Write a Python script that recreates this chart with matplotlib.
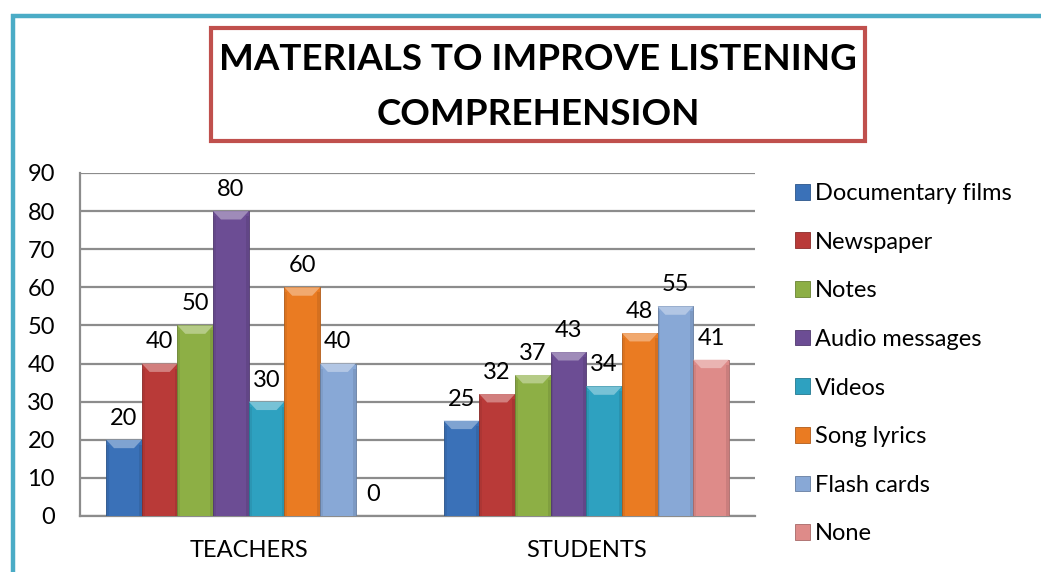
import matplotlib
matplotlib.use("Agg")
import matplotlib.pyplot as plt
from matplotlib.patches import Rectangle, Polygon
from matplotlib.lines import Line2D
import matplotlib.colors as mcolors
import numpy as np

plt.rcParams['font.family'] = ['Lato', 'DejaVu Sans']

categories = ["TEACHERS", "STUDENTS"]
series = ["Documentary films", "Newspaper", "Notes", "Audio messages",
          "Videos", "Song lyrics", "Flash cards", "None"]
teachers = [20, 40, 50, 80, 30, 60, 40, 0]
students = [25, 32, 37, 43, 34, 48, 55, 41]
yticks = [0, 10, 20, 30, 40, 50, 60, 70, 80, 90]
title = "MATERIALS TO IMPROVE LISTENING\nCOMPREHENSION"

colors = ["#3A71B8", "#B93A38", "#8DAF45", "#6C4D94",
          "#2EA1C0", "#EA7B22", "#88A8D6", "#DE8B89"]

W, H = 1041, 572
fig = plt.figure(figsize=(W / 100, H / 100), dpi=100)

# outer frame (only top and left edges are visible)
fig.lines.append(Line2D([11 / W, 1.05], [1 - 15.5 / H, 1 - 15.5 / H], transform=fig.transFigure,
                        color="#4BACC6", lw=3.2, solid_capstyle="butt"))
fig.lines.append(Line2D([12.5 / W, 12.5 / W], [1 - 14 / H, -0.05], transform=fig.transFigure,
                        color="#4BACC6", lw=3.2, solid_capstyle="butt"))

# title box
fig.patches.append(Rectangle((211 / W, 1 - 141 / H), (865 - 211) / W, (141 - 28) / H,
                             transform=fig.transFigure, fill=True, facecolor="white",
                             edgecolor="#C0504D", lw=3.0, zorder=1))
fig.text(538 / W, 1 - 87 / H, title, ha="center", va="center",
         fontsize=26.5, fontweight="bold", linespacing=1.8, zorder=2)

ax = fig.add_axes([80 / W, 56 / H, (755 - 80) / W, (516 - 173) / H])
x = np.arange(len(categories))
n = len(series)
bw = 0.1056
data = np.array([teachers, students])
fs = 17

for i, name in enumerate(series):
    offs = (i - (n - 1) / 2) * bw
    vals = data[:, i]
    c = mcolors.to_rgb(colors[i])
    dark = tuple(v * 0.75 for v in c)
    light = tuple(v + (1 - v) * 0.35 for v in c)
    bars = ax.bar(x + offs, vals, width=bw, color=colors[i], edgecolor=dark,
                  linewidth=0.6, label=name, zorder=3)
    for b, v in zip(bars, vals):
        bx, bwid, bh = b.get_x(), b.get_width(), b.get_height()
        if bh > 0:
            dx = bwid * 0.22
            dy = min(2.2, bh / 2)
            ax.add_patch(Polygon([(bx, bh), (bx + bwid, bh), (bx + bwid - dx, bh - dy),
                                  (bx + dx, bh - dy)], closed=True,
                                 facecolor=light, edgecolor="none", zorder=4))
            ax.add_patch(Rectangle((bx, 0), bwid * 0.08, bh - dy * 0.6,
                                   facecolor=dark, alpha=0.25, edgecolor="none", zorder=4))
            ax.add_patch(Rectangle((bx + bwid * 0.92, 0), bwid * 0.08, bh - dy * 0.6,
                                   facecolor=dark, alpha=0.35, edgecolor="none", zorder=4))
        ax.annotate(f"{v}", (b.get_x() + bwid / 2, bh), xytext=(0, 8),
                    textcoords="offset points", ha="center", va="bottom",
                    fontsize=fs, zorder=5)

ax.set_xlim(-0.5, 1.5)
ax.set_ylim(0, 90)
ax.set_yticks(yticks)
ax.set_yticklabels([str(t) for t in yticks], fontsize=fs)
ax.set_xticks(x)
ax.set_xticklabels(categories, fontsize=fs)
ax.tick_params(axis="y", length=0, pad=18)
ax.tick_params(axis="x", length=0, pad=17)
ax.yaxis.grid(True, color="#8C8C8C", lw=1.6, zorder=0)
ax.set_axisbelow(True)
for s in ["top", "right"]:
    ax.spines[s].set_visible(False)
for s in ["left", "bottom"]:
    ax.spines[s].set_color("#8C8C8C")
    ax.spines[s].set_linewidth(1.6)

handles, labels = ax.get_legend_handles_labels()
leg = fig.legend(handles, labels, loc="upper left", bbox_to_anchor=(795 / W, 1 - 183 / H),
                 frameon=False, fontsize=fs, handlelength=0.65, handleheight=0.65,
                 handletextpad=0.2, labelspacing=1.17, borderaxespad=0, borderpad=0)

fig.savefig("out.png", dpi=100)
